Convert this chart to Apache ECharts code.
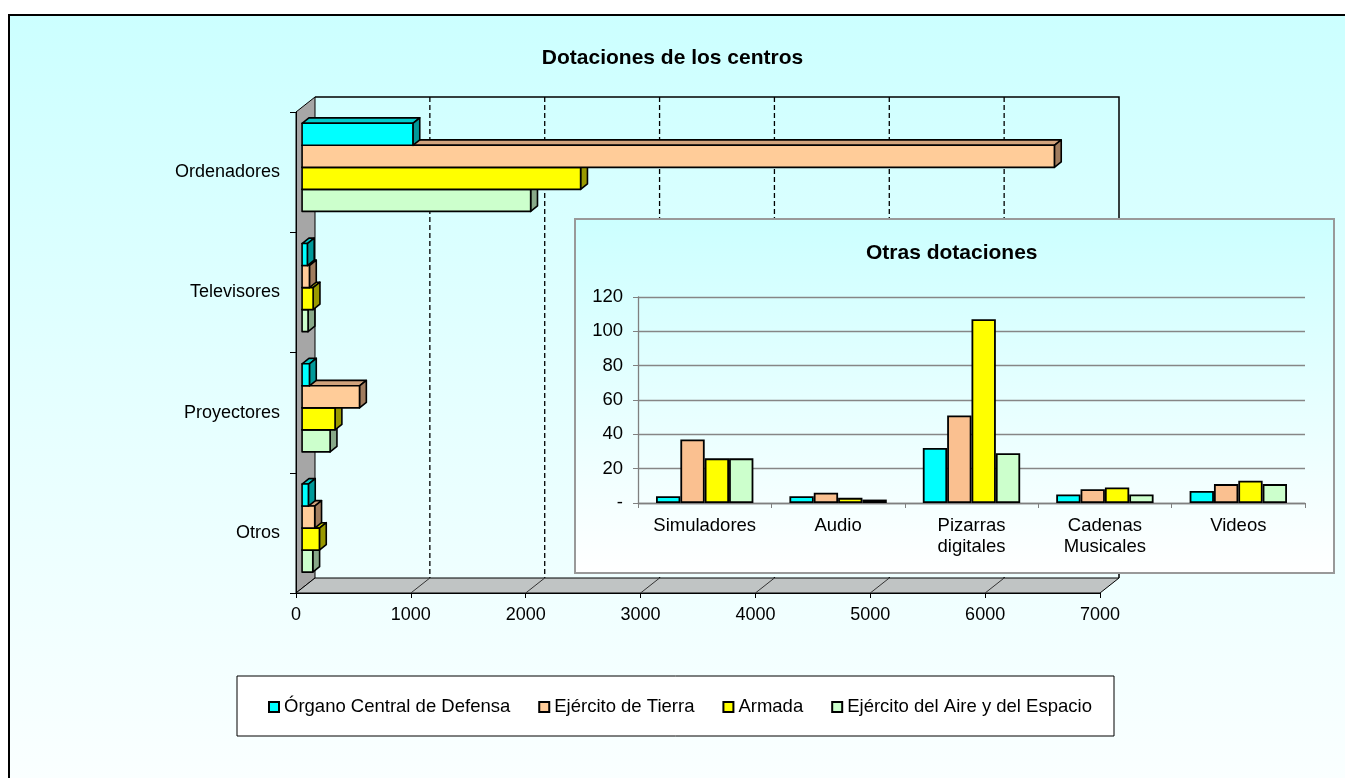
<!DOCTYPE html>
<html><head><meta charset="utf-8">
<script src="https://cdn.jsdelivr.net/npm/echarts@6/dist/echarts.min.js"></script>
<style>
html,body{margin:0;padding:0;background:#fff;}
#bg{position:absolute;left:8px;top:14px;width:1400px;height:800px;border:2px solid #000;background:linear-gradient(to bottom,#CCFFFF 0%,#E6FFFF 50%,#FCFFFF 100%);}
#c{position:absolute;left:0;top:0;width:1345px;height:778px;}
</style>
</head><body><div id="bg"></div><div id="c"></div>
<script>
// ---- data ----
const mainCategories = ['Ordenadores', 'Televisores', 'Proyectores', 'Otros'];
const seriesNames = ['Órgano Central de Defensa', 'Ejército de Tierra', 'Armada', 'Ejército del Aire y del Espacio'];
const mainOrgano = [965, 46, 64, 55];
const mainTierra = [6550, 64, 500, 110];
const mainArmada = [2425, 96, 287, 151];
const mainAire = [1990, 52, 244, 93];
const mainTicks = [0, 1000, 2000, 3000, 4000, 5000, 6000, 7000];

const insetCategories = ['Simuladores', 'Audio', 'Pizarras\ndigitales', 'Cadenas\nMusicales', 'Videos'];
const insetOrgano = [4, 4, 32, 5, 7];
const insetTierra = [37, 6, 51, 8, 11];
const insetArmada = [26, 3, 107, 9, 13];
const insetAire = [26, 2, 29, 5, 11];
const insetTicks = [0, 20, 40, 60, 80, 100, 120];

// ---- styles ----
const FONT = "'Liberation Sans', Arial, sans-serif";
const frontC = ['#00FFFF', '#FFCC99', '#FFFF00', '#CCFFCC'];
const topC = ['#00CCCC', '#D1A37C', '#CCCC00', '#A8D4A8'];
const sideC = ['#009999', '#A07C5E', '#999900', '#88A888'];
const insetC = ['#00FFFF', '#FAC090', '#FFFF00', '#CCFFCC'];
const DX = 19, DY = -15;
const BAR_F = 0.32, BAR_B = 0.68;

const mainValues = [mainOrgano, mainTierra, mainArmada, mainAire];
const insetValues = [insetOrgano, insetTierra, insetArmada, insetAire];

function barRender(si) {
  return function (params, api) {
    const v = api.value(0), c = api.value(1);
    const p0 = api.coord([0, c]);
    const p1 = api.coord([v, c]);
    const band = api.size([0, 1])[1];
    const group = band * 0.733;
    const h = group / 4;
    const fx = DX * BAR_F, fy = DY * BAR_F;
    const dx = DX * (BAR_B - BAR_F), dy = DY * (BAR_B - BAR_F);
    const xL = p0[0] + fx, xR = p1[0] + fx;
    const yT = p0[1] - group / 2 + si * h + fy, yB = yT + h;
    const st = { stroke: '#000', lineWidth: 1.6, lineJoin: 'round' };
    return {
      type: 'group', children: [
        { type: 'polygon', shape: { points: [[xL, yT], [xR, yT], [xR + dx, yT + dy], [xL + dx, yT + dy]] }, style: Object.assign({ fill: topC[si] }, st) },
        { type: 'polygon', shape: { points: [[xR, yT], [xR + dx, yT + dy], [xR + dx, yB + dy], [xR, yB]] }, style: Object.assign({ fill: sideC[si] }, st) },
        { type: 'rect', shape: { x: xL, y: yT, width: xR - xL, height: h }, style: Object.assign({ fill: frontC[si] }, st) }
      ]
    };
  };
}

function wallsRender(params, api) {
  const n = mainCategories.length;
  const band = api.size([0, 1])[1];
  const xa = api.coord([mainTicks[0], 0])[0];
  const xb = api.coord([mainTicks[mainTicks.length - 1], 0])[0];
  const yTop = api.coord([0, 0])[1] - band / 2;
  const yBot = api.coord([0, n - 1])[1] + band / 2;
  const children = [];
  mainTicks.slice(1, -1).forEach(function (t) {
    const x = api.coord([t, 0])[0];
    children.push({ type: 'line', shape: { x1: x + DX, y1: yTop + DY, x2: x + DX, y2: yBot + DY }, style: { stroke: '#000', lineWidth: 1.3, lineDash: [5, 3] } });
  });
  children.push({ type: 'polyline', shape: { points: [[xa + DX, yTop + DY], [xb + DX, yTop + DY], [xb + DX, yBot + DY]] }, style: { stroke: '#000', lineWidth: 1.5, fill: null } });
  children.push({ type: 'polygon', shape: { points: [[xa, yTop], [xa + DX, yTop + DY], [xa + DX, yBot + DY], [xa, yBot]] }, style: { fill: '#A6A6A6', stroke: '#000', lineWidth: 1 } });
  children.push({ type: 'polygon', shape: { points: [[xa, yBot], [xa + DX, yBot + DY], [xb + DX, yBot + DY], [xb, yBot]] }, style: { fill: '#C0C4C4', stroke: '#000', lineWidth: 1 } });
  mainTicks.slice(1, -1).forEach(function (t) {
    const x = api.coord([t, 0])[0];
    children.push({ type: 'line', shape: { x1: x, y1: yBot, x2: x + DX, y2: yBot + DY }, style: { stroke: '#333', lineWidth: 1 } });
  });
  return { type: 'group', children: children };
}

const series = [{
  type: 'custom', name: 'walls', xAxisIndex: 0, yAxisIndex: 0, z: 1, silent: true, clip: false,
  data: [[0, 0]], encode: { x: 0, y: 1 }, renderItem: wallsRender
}];
seriesNames.forEach(function (nm, si) {
  series.push({
    type: 'custom', name: nm, xAxisIndex: 0, yAxisIndex: 0, z: 5 - si, clip: false,
    itemStyle: { color: frontC[si] },
    data: mainValues[si].map(function (v, i) { return [v, i]; }),
    encode: { x: 0, y: 1 }, renderItem: barRender(si)
  });
});
seriesNames.forEach(function (nm, si) {
  series.push({
    type: 'bar', name: nm, xAxisIndex: 1, yAxisIndex: 1, z: 12,
    barGap: '0%', barCategoryGap: '27%',
    itemStyle: { color: insetC[si], borderColor: '#000', borderWidth: 1.8 },
    data: insetValues[si]
  });
});

const chart = echarts.init(document.getElementById('c'), null, { renderer: 'canvas' });
chart.setOption({
  backgroundColor: 'transparent',
  animation: false,
  textStyle: { fontFamily: FONT },
  title: [
    { text: 'Dotaciones de los centros', left: 'center', top: 48, padding: 0, textStyle: { fontFamily: FONT, fontSize: 21, fontWeight: 'bold', color: '#000' } },
    { text: 'Otras dotaciones', left: 866, top: 243, padding: 0, z: 12, textStyle: { fontFamily: FONT, fontSize: 21, fontWeight: 'bold', color: '#000' } }
  ],
  legend: {
    data: seriesNames, left: 268, top: 697, padding: 0, itemGap: 28, itemWidth: 10, itemHeight: 10, icon: 'rect', z: 4,
    itemStyle: { borderColor: '#000', borderWidth: 2 },
    textStyle: { fontFamily: FONT, fontSize: 18.5, color: '#000', lineHeight: 20 }
  },
  graphic: [
    { type: 'rect', z: 3, shape: { x: 237, y: 676, width: 877, height: 60 }, style: { fill: '#fff', stroke: '#000', lineWidth: 1 } },
    { type: 'rect', z: 10, shape: { x: 575, y: 219, width: 759, height: 354 }, style: {
      fill: new echarts.graphic.LinearGradient(0, 0, 0, 1, [{ offset: 0, color: '#CCFFFF' }, { offset: 1, color: '#FFFFFF' }]),
      stroke: '#999999', lineWidth: 2 } }
  ],
  grid: [
    { left: 296, top: 112, width: 804, height: 481, containLabel: false },
    { left: 638, top: 297, width: 667, height: 206, containLabel: false, z: 11 }
  ],
  xAxis: [
    { type: 'value', gridIndex: 0, min: mainTicks[0], max: mainTicks[mainTicks.length - 1], interval: 1000, z: 6,
      axisLine: { show: true, lineStyle: { color: '#000', width: 1 } },
      axisTick: { show: true, length: 5, lineStyle: { color: '#000' } },
      splitLine: { show: false },
      axisLabel: { fontFamily: FONT, fontSize: 18, color: '#000', margin: 13, formatter: function (v) { return String(v); } } },
    { type: 'category', gridIndex: 1, data: insetCategories, z: 11,
      axisLine: { show: true, lineStyle: { color: '#808080', width: 1.3 } },
      axisTick: { show: true, length: 5, lineStyle: { color: '#808080' } },
      axisLabel: { fontFamily: FONT, fontSize: 18.5, color: '#000', margin: 12, lineHeight: 21, interval: 0 } }
  ],
  yAxis: [
    { type: 'category', gridIndex: 0, data: mainCategories, inverse: true, z: 6,
      axisLine: { show: true, lineStyle: { color: '#000', width: 1 } },
      axisTick: { show: true, length: 6, lineStyle: { color: '#000' } },
      axisLabel: { fontFamily: FONT, fontSize: 18, color: '#000', margin: 16 } },
    { type: 'value', gridIndex: 1, min: insetTicks[0], max: insetTicks[insetTicks.length - 1], interval: 20, z: 11,
      axisLine: { show: true, lineStyle: { color: '#808080', width: 1.3 } },
      axisTick: { show: true, length: 5, lineStyle: { color: '#808080' } },
      splitLine: { show: true, lineStyle: { color: '#868686', width: 1.3 } },
      axisLabel: { fontFamily: FONT, fontSize: 18.5, color: '#000', margin: 15, formatter: function (v) { return v === 0 ? '-' : String(v); } } }
  ],
  series: series
});
</script>
</body></html>
